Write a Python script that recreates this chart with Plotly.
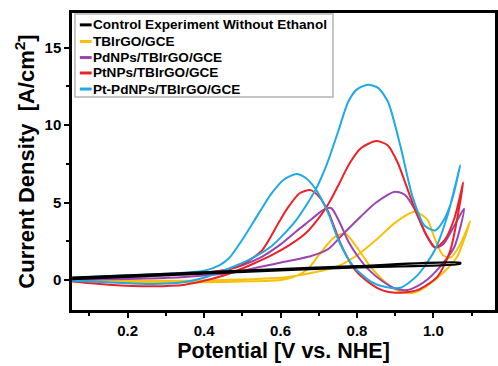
import plotly.graph_objects as go

# ---- data ----
names = ["Control Experiment Without Ethanol", "TBIrGO/GCE", "PdNPs/TBIrGO/GCE",
         "PtNPs/TBIrGO/GCE", "Pt-PdNPs/TBIrGO/GCE"]
colors = ["#000000", "#f7c10b", "#9a44b0", "#ec2229", "#1fa9e6"]

ctrl_x = [0.055, 0.30, 0.55, 0.80, 1.07, 1.07, 0.80, 0.55, 0.30, 0.055]
ctrl_y = [0.15, 0.40, 0.65, 0.90, 1.12, 1.05, 0.82, 0.57, 0.32, 0.05]

yel_x = [0.055, 0.15, 0.25, 0.35, 0.45, 0.55, 0.62, 0.68, 0.751, 0.80, 0.855, 0.90, 0.95,
         0.984, 1.003, 1.025, 1.045, 1.07, 1.096,
         1.062, 1.029, 0.985, 0.958, 0.93, 0.90, 0.87, 0.836, 0.80, 0.769, 0.74, 0.70,
         0.673, 0.64, 0.60, 0.50, 0.40, 0.30, 0.20, 0.10, 0.055]
yel_y = [0.05, 0.0, -0.05, -0.05, 0.0, 0.08, 0.2, 0.45, 0.9, 1.6, 2.7, 3.7, 4.4,
         3.9, 2.7, 1.6, 1.45, 2.3, 3.8,
         1.5, 0.55, -0.35, -0.75, -0.84, -0.6, -0.05, 0.84, 2.1, 3.0, 2.75, 1.6,
         0.75, 0.25, 0.0, -0.1, -0.15, -0.15, -0.15, -0.12, -0.1]

pur_x = [0.055, 0.15, 0.25, 0.35, 0.45, 0.52, 0.595, 0.68, 0.725, 0.765, 0.81, 0.85,
         0.899, 0.925, 0.95, 0.977, 1.003, 1.025, 1.05, 1.08,
         1.054, 1.01, 0.985, 0.958, 0.932, 0.90, 0.865, 0.829, 0.80, 0.777, 0.755, 0.732,
         0.71, 0.68, 0.639, 0.60, 0.551, 0.50, 0.465, 0.40, 0.30, 0.20, 0.10, 0.055]
pur_y = [0.0, 0.05, 0.1, 0.2, 0.4, 0.7, 1.1, 1.55, 2.0, 3.0, 4.1, 5.0,
         5.7, 5.5, 4.6, 3.1, 2.1, 2.3, 3.3, 4.6,
         2.1, 0.65, 0.05, -0.4, -0.65, -0.55, -0.05, 0.7, 1.6, 2.5, 3.7, 4.65,
         4.5, 3.9, 3.1, 2.3, 1.5, 0.95, 0.7, 0.45, 0.3, 0.2, 0.1, 0.05]

red_x = [0.055, 0.15, 0.265, 0.35, 0.40, 0.465, 0.52, 0.577, 0.62, 0.665, 0.70, 0.725, 0.751,
         0.78, 0.81, 0.85, 0.88, 0.906, 0.945, 0.984, 1.005, 1.03, 1.055, 1.078,
         1.044, 1.01, 0.958, 0.90, 0.865, 0.836, 0.795, 0.758, 0.725, 0.70, 0.678, 0.65,
         0.62, 0.595, 0.551, 0.50, 0.465, 0.43, 0.35, 0.25, 0.15, 0.055]
red_y = [-0.1, -0.3, -0.4, -0.3, -0.05, 0.4, 0.95, 1.6, 2.2, 3.0, 4.0, 4.9, 6.1,
         7.5, 8.5, 8.97, 8.7, 7.6, 5.0, 2.8, 2.1, 2.6, 4.0, 6.3,
         1.9, 0.2, -0.65, -0.82, -0.65, -0.25, 0.65, 2.3, 4.4, 5.4, 5.8, 5.6,
         4.7, 3.7, 1.9, 1.0, 0.7, 0.55, 0.4, 0.3, 0.2, 0.1]

blu_x = [0.055, 0.15, 0.25, 0.33, 0.40, 0.45, 0.517, 0.577, 0.639, 0.691, 0.72, 0.751,
         0.777, 0.80, 0.829, 0.855, 0.881, 0.914, 0.945, 0.977, 1.005, 1.03, 1.05, 1.07,
         1.036, 1.003, 0.958, 0.914, 0.875, 0.836, 0.79, 0.751, 0.725, 0.691, 0.665, 0.642,
         0.61, 0.577, 0.543, 0.50, 0.465, 0.44, 0.40, 0.30, 0.20, 0.055]
blu_y = [-0.05, -0.15, -0.25, -0.2, 0.15, 0.6, 1.3, 2.2, 3.8, 5.8, 7.4, 9.6,
         11.5, 12.3, 12.6, 12.4, 11.5, 8.6, 5.4, 3.5, 3.2, 4.0, 5.3, 7.4,
         4.1, 1.9, 0.3, -0.5, -0.45, -0.1, 0.9, 2.6, 4.3, 5.9, 6.6, 6.84,
         6.5, 5.6, 4.3, 2.6, 1.4, 0.95, 0.6, 0.4, 0.3, 0.15]

xs = [ctrl_x, yel_x, pur_x, red_x, blu_x]
ys = [ctrl_y, yel_y, pur_y, red_y, blu_y]

x_ticks = [0.2, 0.4, 0.6, 0.8, 1.0]
x_ticklabels = ["0.2", "0.4", "0.6", "0.8", "1.0"]
y_ticks = [0, 5, 10, 15]
y_ticklabels = ["0", "5", "10", "15"]

font_family = "Liberation Sans, Arial, sans-serif"

fig = go.Figure()
order = [1, 2, 3, 4, 0]
for i in order:
    fig.add_trace(go.Scatter(
        x=xs[i], y=ys[i], mode="lines", name=names[i], showlegend=False,
        line=dict(color=colors[i], width=2.2 if i == 0 else 2, shape="spline", smoothing=0.7),
    ))

# ---- legend drawn as layout items (box, short line samples, labels) ----
shapes = [dict(type="rect", xref="paper", yref="paper", x0=0.007, x1=0.617, y0=0.717, y1=0.997,
               line=dict(color="#b4b4b4", width=1.5), fillcolor="white", layer="above")]
annotations = []
leg_y = [0.960, 0.904, 0.850, 0.798, 0.744]
for i, name in enumerate(names):
    shapes.append(dict(type="line", xref="paper", yref="paper", x0=0.0185, x1=0.0465,
                       y0=leg_y[i], y1=leg_y[i], line=dict(color=colors[i], width=3),
                       layer="above"))
    annotations.append(dict(xref="paper", yref="paper", x=0.046, y=leg_y[i], xanchor="left",
                            yanchor="middle", text=name, showarrow=False,
                            font=dict(size=13.6, family=font_family, color="black", weight="bold")))

fig.update_layout(
    width=498, height=366,
    margin=dict(l=72, r=0, t=13, b=56),
    paper_bgcolor="white", plot_bgcolor="white",
    font=dict(family=font_family, color="black"),
    showlegend=False,
    shapes=shapes, annotations=annotations,
    xaxis=dict(
        range=[0.0545, 1.161], tickvals=x_ticks, ticktext=x_ticklabels,
        ticks="outside", ticklen=5, tickwidth=2, tickcolor="black",
        showline=True, linewidth=2.5, linecolor="black", mirror=True,
        showgrid=False, zeroline=False,
        tickfont=dict(size=15, weight="bold"),
        minor=dict(dtick=0.1, tick0=0, ticks="outside", ticklen=3, tickwidth=1.5, tickcolor="black"),
        title=dict(text="Potential [V vs. NHE]", font=dict(size=21.5, weight="bold"), standoff=6),
    ),
    yaxis=dict(
        range=[-1.935, 17.23], tickvals=y_ticks, ticktext=y_ticklabels,
        ticks="outside", ticklen=5, tickwidth=2, tickcolor="black",
        showline=True, linewidth=2.5, linecolor="black", mirror=True,
        showgrid=False, zeroline=False,
        tickfont=dict(size=15, weight="bold"),
        minor=dict(dtick=2.5, tick0=0, ticks="outside", ticklen=3, tickwidth=1.5, tickcolor="black"),
        title=dict(text="Current Density  [A/cm<sup>2</sup>]", font=dict(size=22, weight="bold"), standoff=4),
    ),
)

fig.write_html("out.html")
